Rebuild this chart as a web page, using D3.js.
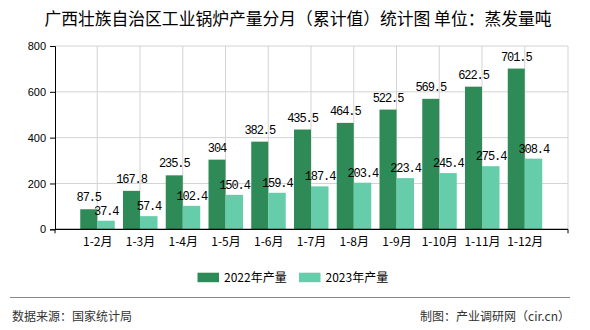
<!DOCTYPE html>
<html><head><meta charset="utf-8">
<script src="https://cdn.jsdelivr.net/npm/d3@7"></script>
<style>body{margin:0;background:#fff}svg{display:block}</style>
</head><body>
<script>
const categories = ["1-2月","1-3月","1-4月","1-5月","1-6月","1-7月","1-8月","1-9月","1-10月","1-11月","1-12月"];
const values2022 = [87.5,167.8,235.5,304,382.5,435.5,464.5,522.5,569.5,622.5,701.5];
const values2023 = [37.4,57.4,102.4,150.4,159.4,187.4,203.4,223.4,245.4,275.4,308.4];
const seriesNames = ["2022年产量","2023年产量"];
const yTicks = [0,200,400,600,800];
const colors = ["#2e8b57","#66cdaa"];

(function(){
const W=590,H=330;
const svg=d3.select("body").append("svg").attr("width",W).attr("height",H);
const pL=55,pR=568,pT=46,pB=229.3;
const cjk="'Noto Sans CJK SC','Noto Sans',sans-serif";

const x=d3.scalePoint().domain(categories).range([pL,pR]).padding(1);
const y=d3.scaleLinear().domain([0,800]).range([pB,pT]);
const bw=17;

// title
svg.append("text").attr("x",298).attr("y",25).attr("text-anchor","middle")
  .style("font-family",cjk).style("font-size","16.8px").attr("fill","#000")
  .text("广西壮族自治区工业锅炉产量分月（累计值）统计图 单位：蒸发量吨");

// grid
const g=svg.append("g");
g.selectAll(".hg").data(yTicks.filter(d=>d>0)).join("line")
  .attr("x1",pL).attr("x2",pR).attr("y1",d=>y(d)).attr("y2",d=>y(d))
  .attr("stroke","#d3d3d3").attr("stroke-width",1);
g.selectAll(".vg").data(categories).join("line")
  .attr("x1",d=>x(d)-0.5).attr("x2",d=>x(d)-0.5).attr("y1",pT).attr("y2",pB)
  .attr("stroke","#d3d3d3").attr("stroke-width",1);
g.append("line").attr("x1",pR).attr("x2",pR).attr("y1",pT).attr("y2",pB)
  .attr("stroke","#d3d3d3");

// bars
svg.selectAll(".b1").data(values2022).join("rect")
  .attr("x",(d,i)=>x(categories[i])-bw-0.5).attr("width",bw)
  .attr("y",d=>y(d)).attr("height",d=>pB-y(d)).attr("fill",colors[0]);
svg.selectAll(".b2").data(values2023).join("rect")
  .attr("x",(d,i)=>x(categories[i])-0.5).attr("width",bw+0.5)
  .attr("y",d=>y(d)).attr("height",d=>pB-y(d)).attr("fill",colors[1]);

// labels
const lf="'Liberation Mono','DejaVu Sans Mono',monospace";
svg.selectAll(".l1").data(values2022).join("text")
  .attr("x",(d,i)=>x(categories[i])-bw/2-0.5).attr("y",d=>y(d)-8)
  .attr("text-anchor","middle").style("font-family",lf).style("font-size","12px")
  .style("letter-spacing","-1.1px").attr("fill","#000").text(d=>d);
svg.selectAll(".l2").data(values2023).join("text")
  .attr("x",(d,i)=>x(categories[i])+bw/2).attr("y",d=>y(d)-6)
  .attr("text-anchor","middle").style("font-family",lf).style("font-size","12px")
  .style("letter-spacing","-1.1px").attr("fill","#000").text(d=>d);

// y axis
const ya=svg.append("g").attr("transform",`translate(${pL},0)`)
  .call(d3.axisLeft(y).tickValues(yTicks).tickSize(5).tickPadding(4));
ya.select(".domain").attr("stroke","#000");
ya.selectAll("text").style("font-family","'Liberation Sans',Arial,sans-serif").style("font-size","11px").attr("fill","#000");

// x axis
svg.append("line").attr("x1",pL).attr("x2",pR).attr("y1",pB).attr("y2",pB).attr("stroke","#000").attr("stroke-width",1.3);
svg.append("line").attr("x1",pL).attr("x2",pL).attr("y1",pB).attr("y2",pB+4).attr("stroke","#000");
svg.append("line").attr("x1",pR).attr("x2",pR).attr("y1",pB).attr("y2",pB+4).attr("stroke","#000");
svg.selectAll(".xl").data(categories).join("text")
  .attr("x",d=>x(d)).attr("y",246).attr("text-anchor","middle")
  .style("font-family",cjk).style("font-size","12px").attr("fill","#000").text(d=>d);

// legend
const lx=[197.5,299];
seriesNames.forEach((n,i)=>{
  svg.append("rect").attr("x",lx[i]).attr("y",272.7).attr("width",21.5).attr("height",9.5).attr("fill",colors[i]);
  svg.append("text").attr("x",lx[i]+26.5).attr("y",282).style("font-family",cjk).style("font-size","12px").attr("fill","#000").text(n);
});

// footer
svg.append("line").attr("x1",10).attr("x2",570).attr("y1",297.5).attr("y2",297.5).attr("stroke","#888").attr("stroke-width",1);
svg.append("text").attr("x",12).attr("y",321).style("font-family",cjk).style("font-size","12px").attr("fill","#333").text("数据来源：国家统计局");
svg.append("text").attr("x",570).attr("y",321).attr("text-anchor","end").style("font-family",cjk).style("font-size","12px").attr("fill","#333").text("制图：产业调研网（cir.cn）");
})();
</script>
</body></html>
